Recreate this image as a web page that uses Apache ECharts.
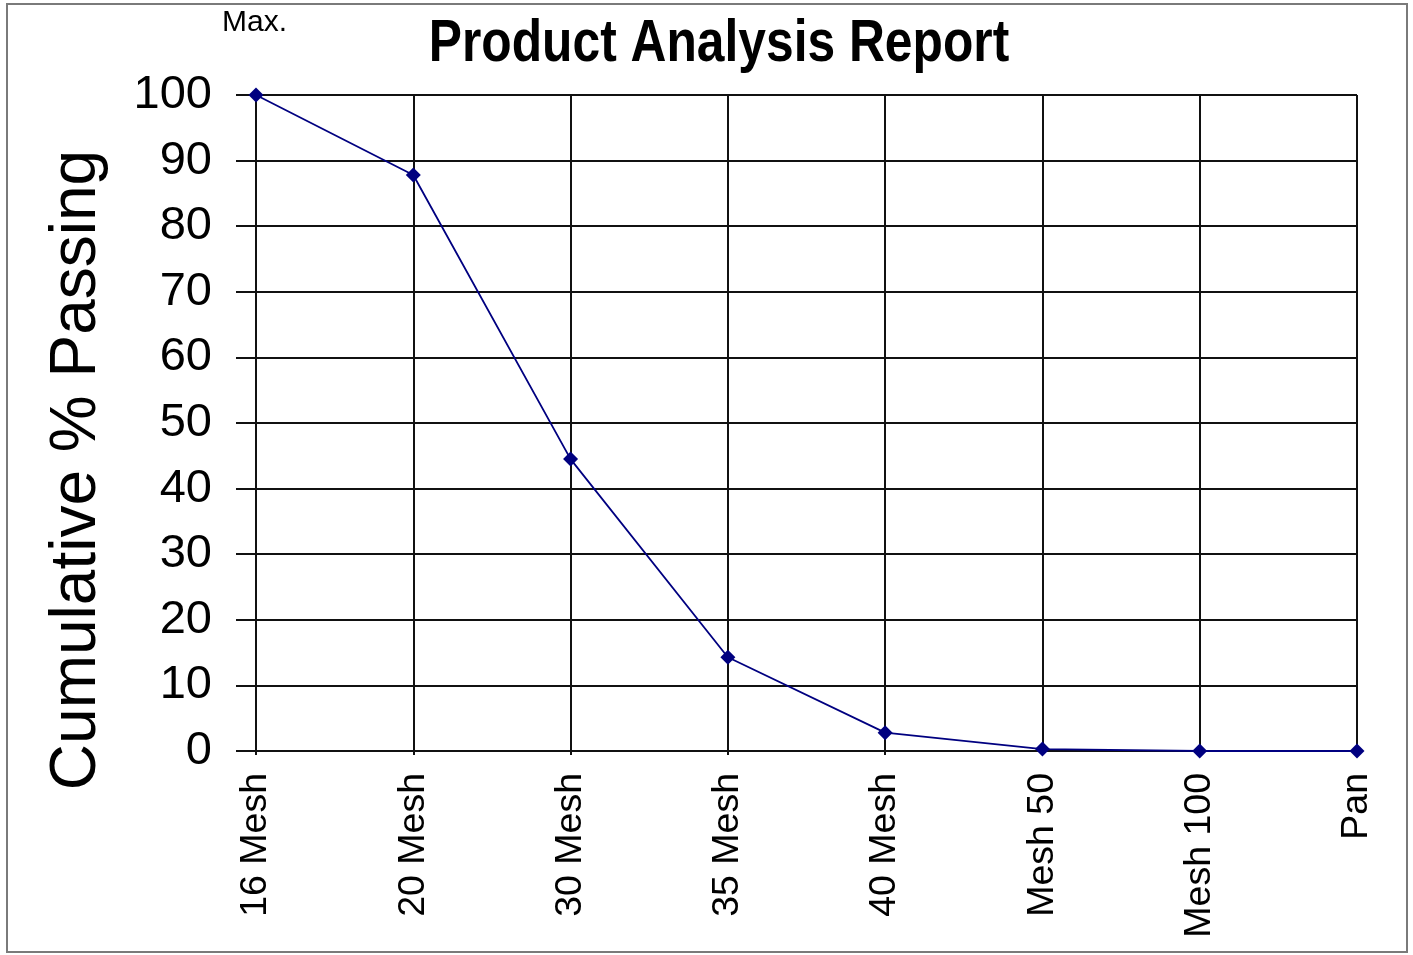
<!DOCTYPE html>
<html>
<head>
<meta charset="utf-8">
<script src="https://cdn.jsdelivr.net/npm/echarts@6/dist/echarts.min.js"></script>
<style>
html,body{margin:0;padding:0;background:#fff;}
#chart{width:1413px;height:955px;}
</style>
</head>
<body>
<div id="chart"></div>
<script>
const categories = ['16 Mesh','20 Mesh','30 Mesh','35 Mesh','40 Mesh','Mesh 50','Mesh 100','Pan'];
const passing = [100, 87.8, 44.5, 14.3, 2.8, 0.3, 0, 0];
const titleText = 'Product Analysis Report';
const maxLabel = 'Max.';
const yAxisName = 'Cumulative % Passing';

const chart = echarts.init(document.getElementById('chart'), null, {renderer: 'canvas'});
chart.setOption({
  backgroundColor: '#fff',
  animation: false,
  graphic: [
    {type: 'rect', shape: {x: 7, y: 4, width: 1400, height: 948}, style: {fill: 'none', stroke: '#7a7a7a', lineWidth: 2}, silent: true},
    {type: 'text', left: 222, top: 8, style: {text: maxLabel, font: '30px "Liberation Sans", Arial, sans-serif', fill: '#000'}},
    {type: 'text', x: 719, y: 45, scaleX: 0.843, style: {text: titleText, font: 'bold 59px "Liberation Sans", Arial, sans-serif', fill: '#000', align: 'center', verticalAlign: 'middle'}},
    {type: 'text', x: 77, y: 470, rotation: Math.PI / 2, style: {text: yAxisName, font: '64px "Liberation Sans", Arial, sans-serif', fill: '#000', align: 'center', verticalAlign: 'middle'}}
  ],
  grid: {left: 256, right: 56, top: 95, bottom: 204, containLabel: false},
  xAxis: {
    type: 'category',
    data: categories,
    boundaryGap: false,
    axisLine: {lineStyle: {color: '#111', width: 2}},
    axisTick: {show: true, length: 4, inside: false, lineStyle: {color: '#111', width: 2}},
    splitLine: {show: true, lineStyle: {color: '#111', width: 2}},
    axisLabel: {rotate: 90, margin: 22, fontSize: 37.5, color: '#000', fontFamily: '"Liberation Sans", Arial, sans-serif', interval: 0}
  },
  yAxis: {
    type: 'value',
    min: 0, max: 100, interval: 10,
    axisLine: {show: true, lineStyle: {color: '#111', width: 2}},
    axisTick: {show: true, length: 20, inside: false, lineStyle: {color: '#111', width: 2}},
    splitLine: {show: true, lineStyle: {color: '#111', width: 2}},
    axisLabel: {margin: 44, fontSize: 47, color: '#000', fontFamily: '"Liberation Sans", Arial, sans-serif'}
  },
  series: [{
    type: 'line',
    data: passing,
    symbol: 'diamond',
    symbolSize: 15,
    lineStyle: {color: '#000080', width: 1.8},
    itemStyle: {color: '#000080'},
    z: 5
  }]
});
</script>
</body>
</html>
